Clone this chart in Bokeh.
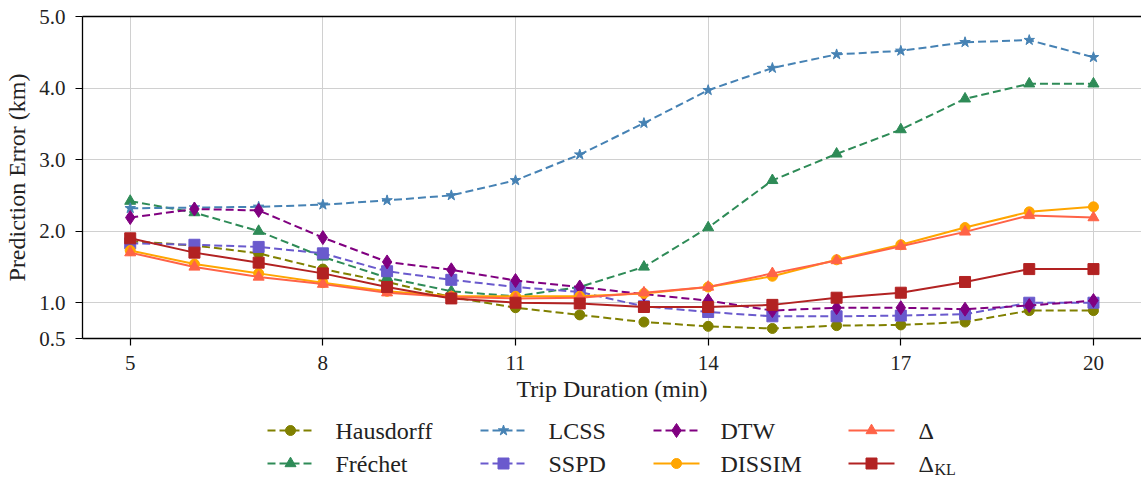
from bokeh.plotting import figure
from bokeh.models import Range1d, FixedTicker, PrintfTickFormatter, LinearAxis
from bokeh.layouts import column
from bokeh.core.properties import value
from bokeh.embed import file_html
from bokeh.resources import INLINE

# ---------------- data ----------------
durations = [5, 6, 7, 8, 9, 10, 11, 12, 13, 14, 15, 16, 17, 18, 19, 20]
hausdorff = [1.86, 1.80, 1.69, 1.47, 1.29, 1.08, 0.93, 0.83, 0.73, 0.67, 0.64, 0.68, 0.69, 0.73, 0.89, 0.89]
frechet   = [2.42, 2.26, 2.00, 1.64, 1.35, 1.16, 1.09, 1.22, 1.50, 2.05, 2.71, 3.08, 3.42, 3.85, 4.06, 4.06]
lcss      = [2.32, 2.33, 2.34, 2.37, 2.43, 2.50, 2.71, 3.07, 3.51, 3.97, 4.28, 4.47, 4.52, 4.64, 4.67, 4.43]
sspd      = [1.83, 1.81, 1.78, 1.69, 1.44, 1.32, 1.22, 1.15, 0.95, 0.87, 0.81, 0.81, 0.82, 0.84, 1.00, 1.00]
dtw       = [2.19, 2.31, 2.29, 1.91, 1.57, 1.46, 1.31, 1.22, 1.12, 1.03, 0.89, 0.93, 0.93, 0.91, 0.96, 1.03]
dissim    = [1.73, 1.54, 1.41, 1.28, 1.16, 1.09, 1.09, 1.09, 1.13, 1.22, 1.37, 1.60, 1.81, 2.05, 2.27, 2.34]
delta     = [1.70, 1.50, 1.36, 1.26, 1.14, 1.08, 1.06, 1.07, 1.14, 1.22, 1.41, 1.59, 1.79, 1.99, 2.22, 2.19]
delta_kl  = [1.90, 1.70, 1.56, 1.41, 1.22, 1.06, 1.00, 0.99, 0.94, 0.94, 0.97, 1.07, 1.14, 1.29, 1.47, 1.47]

x_ticks = [5, 8, 11, 14, 17, 20]
y_ticks = [0.5, 1.0, 2.0, 3.0, 4.0, 5.0]
y_grid = [1.0, 2.0, 3.0, 4.0]

series_names = ["Hausdorff", "Fréchet", "LCSS", "SSPD", "DTW", "DISSIM", "Δ", "Δ"]
series_subs  = ["", "", "", "", "", "", "", "KL"]
series_vals  = [hausdorff, frechet, lcss, sspd, dtw, dissim, delta, delta_kl]

# ---------------- styles ----------------
colors  = ["#808000", "#2e8b57", "#4682b4", "#6a5acd", "#800080", "#ffa500", "#ff6347", "#b22222"]
markers = ["circle", "triangle", "star", "square", "diamond", "circle", "triangle", "square"]
msizes  = [10, 11, 11, 11, 14, 10, 11, 11]
dashes  = ["8 4", "8 4", "8 4", "8 4", "8 4", "solid", "solid", "solid"]

FONT = "Liberation Serif"
TXT = "#222222"

MAIN_H = 405
p = figure(width=1141, height=MAIN_H, x_range=Range1d(4.257, 20.748), y_range=Range1d(0.5, 5.0),
           output_backend="svg", toolbar_location=None,
           min_border_left=82, min_border_right=0, min_border_top=16, min_border_bottom=67,
           outline_line_color=None, background_fill_color="white", border_fill_color="white")

for vals, c, m, s, d in zip(series_vals, colors, markers, msizes, dashes):
    p.line(durations, vals, line_color=c, line_width=2, line_dash=d)
    p.scatter(durations, vals, marker=m, size=s, fill_color=c, line_color=c, line_width=1)

p.xaxis.ticker = FixedTicker(ticks=x_ticks)
p.yaxis.ticker = FixedTicker(ticks=y_ticks)
p.yaxis.formatter = PrintfTickFormatter(format="%.1f")
p.xgrid.ticker = FixedTicker(ticks=x_ticks)
p.ygrid.ticker = FixedTicker(ticks=y_grid)
p.grid.grid_line_color = "#d0d0d0"
p.grid.grid_line_width = 1

for ax in (p.xaxis, p.yaxis):
    ax.axis_line_color = "black"
    ax.axis_line_width = 1.3
    ax.major_tick_line_color = "black"
    ax.major_tick_line_width = 1.2
    ax.major_tick_out = 7
    ax.major_tick_in = 0
    ax.minor_tick_out = 0
    ax.minor_tick_in = 0
    ax.major_label_text_font = FONT
    ax.major_label_text_font_size = "21px"
    ax.major_label_text_color = TXT
    ax.axis_label_text_font = FONT
    ax.axis_label_text_font_size = "24px"
    ax.axis_label_text_font_style = "normal"
    ax.axis_label_text_color = TXT

p.xaxis.axis_label = "Trip Duration (min)"
p.yaxis.axis_label = "Prediction Error (km)"
p.xaxis.major_label_standoff = 10
p.xaxis.axis_label_standoff = 3
p.yaxis.major_label_standoff = 10
p.yaxis.axis_label_standoff = 6

top = LinearAxis(ticker=FixedTicker(ticks=[]), axis_line_color="black", axis_line_width=1.3,
                 major_tick_out=0, major_tick_in=0, minor_tick_out=0, minor_tick_in=0,
                 major_label_text_font_size="0px")
p.add_layout(top, "above")

# ---------------- legend (separate strip, screen-like coordinates) ----------------
leg = figure(width=1141, height=480 - MAIN_H, x_range=Range1d(82, 1141), y_range=Range1d(80, MAIN_H - 400),
             output_backend="svg", toolbar_location=None,
             min_border_left=82, min_border_right=0, min_border_top=0, min_border_bottom=0,
             x_axis_type=None, y_axis_type=None, outline_line_color=None,
             background_fill_color="white", border_fill_color="white")
leg.grid.visible = False

col_line_x = [267, 480, 653, 848]
col_text_x = [335, 548, 720, 918]
row_y = [30, 63]
line_len = 46

for i, (name, sub, c, m, s, d) in enumerate(zip(series_names, series_subs, colors, markers, msizes, dashes)):
    col, row = i // 2, i % 2
    x0 = col_line_x[col]
    y0 = row_y[row]
    leg.line([x0, x0 + line_len], [y0, y0], line_color=c, line_width=2, line_dash=d)
    leg.scatter([x0 + line_len / 2], [y0], marker=m, size=s, fill_color=c, line_color=c)
    leg.text([col_text_x[col]], [y0], text=[name], text_font=value(FONT), text_font_size="24px",
             text_color=TXT, text_baseline="middle", text_align="left")
    if sub:
        leg.text([col_text_x[col] + 16], [y0 + 6], text=[sub], text_font=value(FONT),
                 text_font_size="16px", text_color=TXT, text_baseline="middle", text_align="left")

layout = column(p, leg, spacing=0)
open("out.html", "w").write(file_html(layout, INLINE))
